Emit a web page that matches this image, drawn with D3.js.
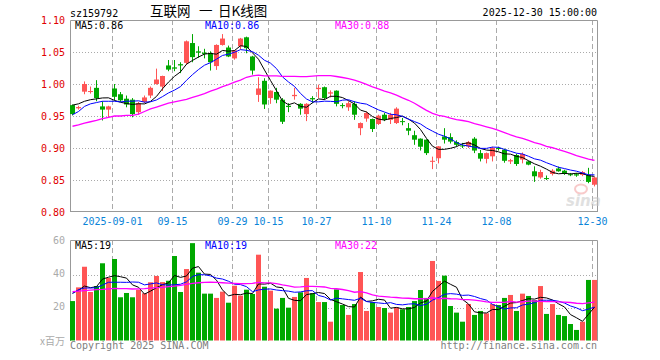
<!DOCTYPE html>
<html>
<head>
<meta charset="utf-8">
<script src="https://cdn.jsdelivr.net/npm/d3@7"></script>
<style>
  body { margin: 0; background: #fff; }
  text { font-family: "DejaVu Sans Mono", "Liberation Mono", monospace; font-size: 10px; }
</style>
</head>
<body>
<svg id="chart" width="660" height="360"></svg>
<script>
// trading days shown on the chart
const dates = [
  "08-21","08-22","08-25","08-26","08-27","08-28","08-29",
  "09-01","09-02","09-03","09-04","09-05","09-08","09-09","09-10","09-11","09-12",
  "09-15","09-16","09-17","09-18","09-19","09-22","09-23","09-24","09-25","09-26",
  "09-29","09-30","10-09","10-10","10-13","10-14","10-15","10-16","10-17",
  "10-20","10-21","10-22","10-23","10-24","10-27","10-28","10-29","10-30","10-31",
  "11-03","11-04","11-05","11-06","11-07","11-10","11-11","11-12","11-13","11-14",
  "11-17","11-18","11-19","11-20","11-21","11-24","11-25","11-26","11-27","11-28",
  "12-01","12-02","12-03","12-04","12-05","12-08","12-09","12-10","12-11","12-12",
  "12-15","12-16","12-17","12-18","12-19","12-22","12-23","12-24","12-25","12-26",
  "12-29","12-30"
];
const opens = [
  0.967, 0.962, 0.988, 0.988, 0.994, 0.965, 0.960, 0.993, 0.984, 0.977,
  0.9755, 0.956, 0.972, 0.982, 1.000, 0.996, 1.029, 1.026, 1.031, 1.033,
  1.064, 1.051, 1.049, 1.0485, 1.028, 1.061, 1.057, 1.040, 1.059, 1.073,
  1.043, 0.983, 1.005, 0.978, 0.9875, 0.9755, 0.966, 0.981, 0.969, 0.953,
  0.978, 0.992, 0.995, 0.985, 0.9896, 0.967, 0.9636, 0.969, 0.931, 0.946,
  0.9453, 0.9375, 0.952, 0.944, 0.939, 0.942, 0.931, 0.920, 0.9146, 0.913,
  0.879, 0.884, 0.918, 0.917, 0.9094, 0.904, 0.9026, 0.9146, 0.892, 0.883,
  0.887, 0.900, 0.8974, 0.879, 0.889, 0.882, 0.879, 0.8636, 0.854, 0.853,
  0.8594, 0.868, 0.8646, 0.859, 0.859, 0.858, 0.858, 0.8427
];
const closes = [
  0.953, 0.964, 1.000, 0.989, 0.978, 0.960, 0.965, 0.980, 0.9745, 0.968,
  0.953, 0.970, 0.979, 0.994, 1.007, 1.0125, 1.0225, 1.024, 1.029, 1.0667,
  1.042, 1.049, 1.047, 1.034, 1.061, 1.071, 1.043, 1.0525, 1.071, 1.056,
  1.021, 0.993, 0.968, 0.9896, 0.9755, 0.941, 0.964, 0.983, 0.9615, 0.969,
  0.976, 0.994, 0.978, 0.987, 0.969, 0.966, 0.970, 0.952, 0.939, 0.9547,
  0.9297, 0.9505, 0.944, 0.952, 0.9615, 0.941, 0.927, 0.913, 0.902, 0.892,
  0.880, 0.9026, 0.913, 0.910, 0.905, 0.903, 0.9094, 0.896, 0.8833, 0.892,
  0.900, 0.899, 0.880, 0.881, 0.875, 0.8906, 0.874, 0.8558, 0.8625, 0.852,
  0.8646, 0.8636, 0.8594, 0.858, 0.857, 0.8625, 0.847, 0.854
];
const highs = [
  0.968, 0.966, 1.004, 0.996, 1.006, 0.973, 0.966, 1.000, 0.9875, 0.982,
  0.978, 0.972, 0.982, 0.996, 1.024, 1.013, 1.0375, 1.0375, 1.034, 1.068,
  1.078, 1.059, 1.055, 1.051, 1.062, 1.078, 1.060, 1.053, 1.072, 1.074,
  1.044, 1.0105, 1.009, 0.990, 0.994, 0.978, 0.970, 0.994, 0.970, 0.970,
  0.981, 0.999, 0.996, 0.990, 0.990, 0.970, 0.973, 0.973, 0.940, 0.957,
  0.946, 0.952, 0.955, 0.955, 0.9636, 0.947, 0.939, 0.927, 0.915, 0.9135,
  0.8865, 0.903, 0.931, 0.923, 0.912, 0.908, 0.911, 0.917, 0.897, 0.893,
  0.902, 0.902, 0.899, 0.883, 0.891, 0.893, 0.880, 0.8714, 0.866, 0.857,
  0.867, 0.871, 0.866, 0.861, 0.861, 0.864, 0.869, 0.855
];
const lows = [
  0.951, 0.960, 0.984, 0.985, 0.973, 0.943, 0.948, 0.974, 0.972, 0.9636,
  0.948, 0.952, 0.970, 0.978, 0.999, 0.989, 1.020, 1.020, 1.017, 1.030,
  1.034, 1.041, 1.040, 1.021, 1.022, 1.060, 1.042, 1.038, 1.054, 1.048,
  1.0146, 0.972, 0.961, 0.969, 0.970, 0.9375, 0.956, 0.9755, 0.952, 0.942,
  0.970, 0.978, 0.9755, 0.979, 0.965, 0.962, 0.958, 0.944, 0.920, 0.941,
  0.925, 0.936, 0.942, 0.9375, 0.9375, 0.9355, 0.920, 0.905, 0.896, 0.889,
  0.867, 0.876, 0.907, 0.907, 0.902, 0.900, 0.900, 0.892, 0.879, 0.876,
  0.879, 0.896, 0.877, 0.875, 0.872, 0.876, 0.873, 0.847, 0.852, 0.850,
  0.857, 0.863, 0.858, 0.856, 0.855, 0.856, 0.845, 0.840
];
// volume, millions
const volumes = [
  23.9, 32.2, 44.7, 29.4, 33.0, 46.8, 37.9, 49.4, 26.2, 28.8,
  26.2, 30.8, 28.6, 35.3, 39.1, 35.4, 36.2, 51.2, 29.4, 43.3,
  59.0, 41.1, 28.4, 28.4, 25.8, 29.6, 22.9, 33.2, 27.2, 30.8,
  28.2, 52.0, 32.6, 30.2, 19.3, 25.8, 19.9, 26.4, 29.2, 37.9,
  28.6, 23.3, 23.3, 11.4, 31.0, 21.5, 15.5, 22.1, 41.5, 17.9,
  23.2, 20.3, 19.7, 16.9, 20.1, 18.9, 20.3, 23.9, 30.6, 25.8,
  48.2, 36.1, 39.3, 20.9, 16.9, 11.4, 22.1, 15.5, 17.9, 16.5,
  22.1, 21.5, 25.8, 27.6, 17.9, 28.4, 27.0, 24.5, 33.0, 16.1,
  22.1, 15.5, 14.8, 10.0, 6.4, 11.4, 36.7, 36.7
];
// moving-average values before a full window exists
const ma5Head = [0.967, 0.969, 0.973, 0.9755];
const ma10Head = [0.952, 0.957, 0.965, 0.969, 0.971, 0.973, 0.973, 0.973, 0.972];
const ma30Head = [
  0.934, 0.936, 0.939, 0.941, 0.943, 0.946, 0.948, 0.950, 0.950, 0.951,
  0.951, 0.953, 0.957, 0.961, 0.964, 0.967, 0.970, 0.972, 0.974, 0.976,
  0.979, 0.982, 0.985, 0.989, 0.992, 0.996, 0.999, 1.003, 1.006
];
const volMa5Head = [28.6, 30.5, 33.0, 32.0];
const volMa10Head = [28.6, 30.8, 31.8, 31.8, 32.0, 33.6, 35.3, 35.3, 35.3];
const volMa30Head = [
  29.6, 29.9, 30.2, 30.5, 30.8, 31.0, 31.3, 31.6, 31.5, 31.4,
  31.2, 31.3, 31.5, 31.8, 32.0, 32.2, 32.6, 33.0, 33.4, 34.0,
  34.6, 35.0, 35.2, 35.3, 35.2, 35.0, 34.8, 34.6, 34.4
];

const priceTicks = [1.10, 1.05, 1.00, 0.95, 0.90, 0.85, 0.80];
const volTicks = [60, 40, 20];
const dateTicks = ["09-01", "09-15", "09-29", "10-15", "10-27", "11-10", "11-24", "12-08", "12-30"];
const dateTickLabels = ["2025-09-01", "09-15", "09-29", "10-15", "10-27", "11-10", "11-24", "12-08", "12-30"];
const priceLegend = ["MA5:0.86", "MA10:0.86", "MA30:0.88"];
const volLegend = ["MA5:19", "MA10:19", "MA30:22"];

const RED = "#ff5555", GREEN = "#00a800", GRID = "#aaaaaa";
const maColors = ["#000000", "#0000ff", "#ff00ff"];

const movingAvg = (values, n, head) =>
  values.map((v, i) => (i < n - 1 ? head[i] : d3.mean(values.slice(i - n + 1, i + 1))));

const candles = dates.map((d, i) => ({
  date: d, open: opens[i], close: closes[i], high: highs[i], low: lows[i], vol: volumes[i]
}));
const isUp = (d) => d.close >= d.open;

const svg = d3.select("#chart");
const left = 70, right = 597;

const x = d3.scaleBand().domain(dates).range([left, left + 6 * dates.length]);
const cx = (date) => x(date) + 2.5;
const yPrice = d3.scaleLinear().domain([0.80, 1.10]).range([212, 20]);
const yVol = d3.scaleLinear().domain([0, 60]).range([340.5, 241.5]);

// panel frames and grids
function panel(top, bottom, ticks, yScale) {
  const g = svg.append("g");
  g.selectAll(".hgrid")
    .data(ticks.filter((t) => yScale(t) > top + 2 && yScale(t) < bottom - 2))
    .enter().append("line")
    .attr("x1", left).attr("x2", right)
    .attr("y1", (t) => Math.round(yScale(t)) + 0.5).attr("y2", (t) => Math.round(yScale(t)) + 0.5)
    .attr("stroke", GRID).attr("stroke-dasharray", "1,2");
  g.selectAll(".vgrid")
    .data(dateTicks)
    .enter().append("line")
    .attr("x1", (d) => x(d) + 0.5).attr("x2", (d) => x(d) + 0.5)
    .attr("y1", top).attr("y2", bottom)
    .attr("stroke", GRID).attr("stroke-dasharray", "5,3");
  g.append("path")
    .attr("d", `M${left + 0.5},${bottom} V${top + 0.5} H${right + 0.5} V${bottom}`)
    .attr("fill", "none").attr("stroke", "#999");
  return g;
}
panel(20, 212, priceTicks, yPrice);
svg.append("line").attr("x1", left).attr("x2", right + 1).attr("y1", 211.5).attr("y2", 211.5).attr("stroke", "#999");
panel(240, 341, volTicks, yVol);

// price axis labels
svg.append("g").selectAll("text")
  .data(priceTicks).enter().append("text")
  .attr("x", 65).attr("y", (t) => yPrice(t) + 3.5)
  .attr("text-anchor", "end").attr("fill", "#e00000")
  .text((t) => t.toFixed(2));

svg.append("g").selectAll("text")
  .data(volTicks).enter().append("text")
  .attr("x", 65).attr("y", (t) => yVol(t) + 2.5)
  .attr("text-anchor", "end").attr("fill", "#aaaaaa")
  .text((t) => t);
svg.append("text").attr("x", 65).attr("y", 345).attr("text-anchor", "end")
  .attr("fill", "#aaaaaa").style("font-family", "'Noto Sans CJK SC', sans-serif").text("x百万");

// date labels
svg.append("g").selectAll("text")
  .data(dateTicks).enter().append("text")
  .attr("x", (d) => x(d) + 0.5).attr("y", 225)
  .attr("text-anchor", "middle").attr("fill", "#0a84d8")
  .text((d, i) => dateTickLabels[i]);

// watermark
const wm = svg.append("g").attr("opacity", 0.55);
wm.append("ellipse").attr("cx", 581).attr("cy", 189).attr("rx", 6).attr("ry", 4.5)
  .attr("fill", "none").attr("stroke", "#f4a0a0").attr("stroke-width", 2);
wm.append("text").attr("x", 566).attr("y", 206)
  .style("font-family", "'DejaVu Sans', sans-serif").style("font-size", "15px")
  .style("font-style", "italic").style("font-weight", "bold")
  .attr("fill", "#c8c8c8").text("sina");

// volume bars
svg.append("g").selectAll("rect")
  .data(candles).enter().append("rect")
  .attr("x", (d) => x(d.date)).attr("width", 5)
  .attr("y", (d) => yVol(d.vol)).attr("height", (d) => yVol(0) - yVol(d.vol))
  .attr("fill", (d) => (isUp(d) ? RED : GREEN));

// candles: wick then body
const cg = svg.append("g").selectAll("g").data(candles).enter().append("g");
cg.append("line")
  .attr("x1", (d) => cx(d.date)).attr("x2", (d) => cx(d.date))
  .attr("y1", (d) => yPrice(d.high)).attr("y2", (d) => yPrice(d.low))
  .attr("stroke", (d) => (isUp(d) ? RED : GREEN));
cg.append("rect")
  .attr("x", (d) => x(d.date)).attr("width", 5)
  .attr("y", (d) => yPrice(Math.max(d.open, d.close)))
  .attr("height", (d) => Math.max(1, Math.abs(yPrice(d.open) - yPrice(d.close))))
  .attr("fill", (d) => (isUp(d) ? RED : GREEN));

// moving averages
function maLines(series, heads, yScale) {
  const line = d3.line().x((v, i) => cx(dates[i])).y((v) => yScale(v));
  [5, 10, 30].forEach((n, k) => {
    svg.append("path")
      .datum(movingAvg(series, n, heads[k]))
      .attr("d", line).attr("fill", "none")
      .attr("stroke", maColors[k]).attr("stroke-width", k === 2 ? 1.3 : 1);
  });
}
maLines(closes, [ma5Head, ma10Head, ma30Head], yPrice);
maLines(volumes, [volMa5Head, volMa10Head, volMa30Head], yVol);

// legends
const legendX = [75, 205, 335];
[[priceLegend, 29], [volLegend, 249]].forEach(([labels, y]) => {
  svg.append("g").selectAll("text")
    .data(labels).enter().append("text")
    .attr("x", (d, i) => legendX[i]).attr("y", y)
    .attr("fill", (d, i) => maColors[i])
    .text((d) => d);
});

// header and footer
svg.append("text").attr("x", 70).attr("y", 17).text("sz159792");
svg.append("text").attr("x", 597).attr("y", 16).attr("text-anchor", "end")
  .text("2025-12-30 15:00:00");
const title = svg.append("text").attr("y", 16)
  .style("font-family", "'Noto Sans CJK SC', sans-serif").style("font-size", "13.5px");
title.append("tspan").attr("x", 150).text("互联网");
title.append("tspan").attr("x", 199).text("一");
title.append("tspan").attr("x", 218).text("日K线图");
svg.append("text").attr("x", 70).attr("y", 349).attr("fill", "#808080")
  .text("Copyright 2025 SINA.COM");
svg.append("text").attr("x", 597).attr("y", 349).attr("text-anchor", "end").attr("fill", "#808080")
  .text("http://finance.sina.com.cn");
</script>
</body>
</html>
